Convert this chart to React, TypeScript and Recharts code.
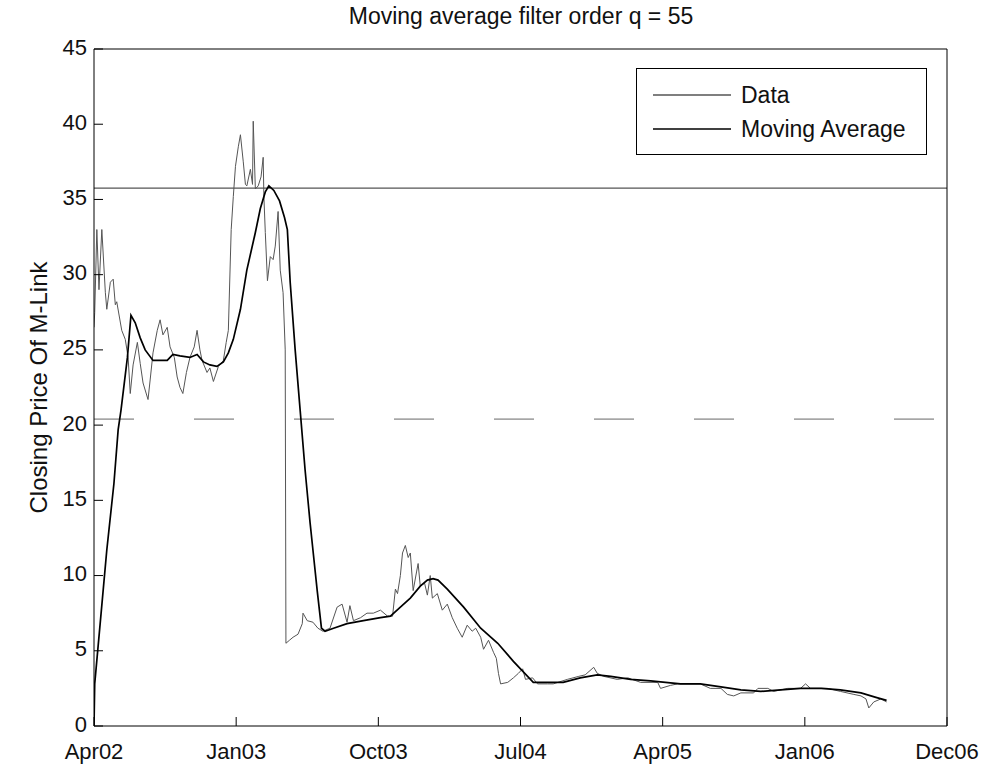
import React from "react";
import {
  LineChart,
  Line,
  XAxis,
  YAxis,
  Legend,
  ReferenceLine,
  Label,
} from "recharts";

// x axis runs in sample units, 200 per tick interval
const X_TICKS = [0, 200, 400, 600, 800, 1000, 1200];
const X_LABELS = ["Apr02", "Jan03", "Oct03", "Jul04", "Apr05", "Jan06", "Dec06"];
const Y_TICKS = [0, 5, 10, 15, 20, 25, 30, 35, 40, 45];

// closing price (thin grey)
const PRICE_X = [
  0, 1, 4, 7, 11, 16, 18, 23, 27, 30, 32, 39, 44, 48, 51, 55, 61, 65, 69, 76,
  79, 83, 89, 93, 97, 103, 107, 113, 117, 121, 125, 130, 135, 141, 145, 149,
  152, 159, 163, 168, 175, 182, 186, 189, 193, 196, 199, 203, 206, 210, 213,
  215, 220, 223, 224, 227, 231, 235, 238, 239, 241, 244, 248, 252, 255, 259,
  262, 266, 269, 270, 275, 280, 287, 293, 294, 300, 308, 315, 322, 332, 342,
  349, 356, 360, 365, 375, 384, 393, 403, 413, 420, 424, 427, 431, 434, 438,
  442, 445, 449, 454, 456, 459, 465, 469, 473, 476, 483, 490, 497, 504, 511,
  518, 525, 532, 537, 544, 548, 555, 562, 566, 569, 572, 582, 590, 597, 603,
  607, 617, 624, 638, 646, 666, 682, 691, 703, 708, 717, 736, 751, 769, 793,
  797, 811, 821, 853, 867, 882, 891, 900, 910, 928, 934, 948, 956, 976, 994,
  1001, 1008, 1032, 1050, 1069, 1079, 1086, 1090, 1097, 1107, 1115,
];
const PRICE = [
  26.5, 27.5, 33, 29, 33, 28.8, 27.7, 29.5, 29.7, 28, 28.2, 26.3, 25.7, 24.5,
  22.1, 24, 25.5, 24.1, 22.8, 21.7, 23, 24.8, 26.3, 27, 26, 26.5, 25.2, 24.5,
  23.2, 22.5, 22.1, 23.5, 24.5, 25.2, 26.3, 25, 24.3, 23.5, 23.8, 22.9, 23.9,
  24.3, 25.5, 26.3, 33, 35.2, 37.2, 38.5, 39.3, 37.5, 36, 35.9, 37, 36, 40.2,
  35.7, 35.9, 36.5, 37.8, 35.2, 32.8, 29.6, 31.2, 31, 31.9, 34.2, 30.3, 28.8,
  25, 5.5, 5.7, 5.9, 6.1, 6.8, 7.5, 7, 6.9, 6.5, 6.3, 6.5, 7.9, 8.1, 6.9, 8,
  7, 7.2, 7.5, 7.5, 7.7, 7.3, 7.3, 9.1, 8.8, 10, 11.5, 12, 11.2, 11.5, 9, 10.3,
  10.8, 9.3, 9.5, 8.7, 10, 8.5, 8.8, 7.7, 8.1, 7.2, 6.5, 5.9, 6.7, 6.3, 6.5,
  5.9, 5.1, 5.7, 4.9, 4.5, 3.5, 2.8, 2.9, 3.2, 3.5, 3.8, 3.1, 3.2, 2.8, 2.8,
  2.8, 3.1, 3.3, 3.4, 3.9, 3.5, 3.3, 3.1, 3.2, 2.9, 2.9, 2.5, 2.7, 2.8, 2.8,
  2.5, 2.5, 2.1, 2, 2.2, 2.2, 2.5, 2.5, 2.3, 2.5, 2.5, 2.8, 2.5, 2.5, 2.3,
  2.1, 2, 1.8, 1.2, 1.6, 1.8, 1.6,
];

// moving average, q = 55 (black)
const MA_X = [
  0, 1, 10, 18, 28, 34, 38, 47, 52, 58, 65, 72, 83, 93, 103, 111, 121, 135,
  145, 154, 163, 173, 182, 189, 196, 206, 215, 227, 234, 241, 246, 253,
  261, 268, 272, 276, 283, 290, 297, 304, 308, 314, 320, 325, 337, 356, 379,
  403, 417, 431, 445, 459, 469, 477, 484, 497, 520, 544, 568, 590, 610, 618,
  638, 660, 684, 708, 727, 755, 783, 825, 853, 882, 910, 938, 966, 994, 1023,
  1050, 1079, 1100, 1115,
];
const MA = [
  0, 2.8, 7.5, 11.7, 16.1, 19.7, 21, 24.5, 27.3, 26.8, 25.8, 25, 24.3, 24.3,
  24.3, 24.7, 24.6, 24.5, 24.7, 24.2, 24, 23.9, 24.2, 24.8, 25.7, 27.7, 30.3,
  32.8, 34.4, 35.5, 35.9, 35.6, 34.9, 33.8, 33, 29.5, 25, 21, 17, 13.5,
  11.7, 9, 6.5, 6.3, 6.5, 6.8, 7, 7.2, 7.3, 7.9, 8.5, 9.3, 9.7, 9.8, 9.7, 9.1,
  7.9, 6.5, 5.5, 4.3, 3.3, 2.9, 2.9, 2.9, 3.2, 3.4, 3.3, 3.1, 3, 2.8, 2.8, 2.6,
  2.4, 2.3, 2.4, 2.5, 2.5, 2.4, 2.2, 1.9, 1.7,
];

const priceRows = PRICE_X.map((x, i) => ({ x, y: PRICE[i] }));
const maRows = MA_X.map((x, i) => ({ x, y: MA[i] }));

const FONT = '"Liberation Sans", Arial, Helvetica, sans-serif';
const TICK_LEN = 9;

const LeftTick = ({ x, y, payload }: any) => (
  <g>
    <text
      x={x}
      y={y - 2}
      textAnchor="end"
      dominantBaseline="central"
      fontFamily={FONT}
      fontSize={22}
      fill="#111"
    >
      {payload.value}
    </text>
    <line x1={x + 7} x2={x + 7 + TICK_LEN} y1={y} y2={y} stroke="#000" />
  </g>
);

const RightTick = ({ x, y }: any) => (
  <line x1={x} x2={x - TICK_LEN} y1={y} y2={y} stroke="#000" />
);

const BottomTick = ({ x, y, payload }: any) => (
  <g>
    <text
      x={x}
      y={y + 33}
      textAnchor="middle"
      fontFamily={FONT}
      fontSize={22}
      fill="#111"
    >
      {X_LABELS[X_TICKS.indexOf(payload.value)]}
    </text>
    <line x1={x} x2={x} y1={y} y2={y - TICK_LEN} stroke="#000" />
  </g>
);

const TopTick = ({ x, y }: any) => (
  <line x1={x} x2={x} y1={y} y2={y + TICK_LEN} stroke="#000" />
);

const renderLegend = (props: any) => (
  <div
    style={{
      width: 291,
      height: 87,
      boxSizing: "border-box",
      border: "1px solid #000",
      background: "#fff",
      padding: "9px 0 0 16px",
      fontFamily: FONT,
      fontSize: 23,
      color: "#111",
    }}
  >
    {props.payload.map((entry: any) => (
      <div
        key={entry.value}
        style={{ display: "flex", alignItems: "center", height: 34 }}
      >
        <svg width={78} height={4} style={{ marginRight: 10 }}>
          <line x1={0} x2={78} y1={2} y2={2} stroke={entry.color} strokeWidth={1.3} />
        </svg>
        <span>{entry.value}</span>
      </div>
    ))}
  </div>
);

export default function App() {
  return (
    <div
      style={{
        position: "absolute",
        left: 0,
        top: 0,
        width: 993,
        height: 767,
        background: "#fff",
      }}
    >
      <div
        style={{
          position: "absolute",
          left: 0,
          width: 1042,
          top: 3,
          textAlign: "center",
          fontFamily: FONT,
          fontSize: 23,
          color: "#111",
        }}
      >
        Moving average filter order q = 55
      </div>
      <LineChart
        width={993}
        height={767}
        margin={{ top: 48, right: 45, bottom: 40, left: 0 }}
      >
        <XAxis
          xAxisId="bottom"
          type="number"
          dataKey="x"
          domain={[0, 1200]}
          ticks={X_TICKS}
          interval={0}
          height={1}
          tickSize={0}
          tickMargin={0}
          tick={<BottomTick />}
          axisLine={{ stroke: "#000" }}
          allowDataOverflow
        />
        <XAxis
          xAxisId="top"
          orientation="top"
          type="number"
          dataKey="x"
          domain={[0, 1200]}
          ticks={X_TICKS}
          interval={0}
          height={1}
          tickSize={0}
          tickMargin={0}
          tick={<TopTick />}
          axisLine={{ stroke: "#000" }}
        />
        <YAxis
          yAxisId="left"
          type="number"
          domain={[0, 45]}
          ticks={Y_TICKS}
          interval={0}
          width={94}
          tickSize={0}
          tickMargin={7}
          tick={<LeftTick />}
          axisLine={{ stroke: "#000" }}
        >
          <Label
            value="Closing Price Of M-Link"
            angle={-90}
            position="insideLeft"
            offset={38}
            style={{
              textAnchor: "middle",
              fontFamily: FONT,
              fontSize: 24,
              fill: "#111",
            }}
          />
        </YAxis>
        <YAxis
          yAxisId="right"
          orientation="right"
          type="number"
          domain={[0, 45]}
          ticks={Y_TICKS}
          interval={0}
          width={1}
          tickSize={0}
          tickMargin={0}
          tick={<RightTick />}
          axisLine={{ stroke: "#000" }}
        />
        {/* horizontal streaks across the scanned page */}
        <ReferenceLine
          xAxisId="bottom"
          yAxisId="left"
          y={35.75}
          stroke="#555"
          strokeWidth={1.2}
        />
        <ReferenceLine
          xAxisId="bottom"
          yAxisId="left"
          y={20.4}
          stroke="#666"
          strokeDasharray="40 60"
        />
        <Line
          data={priceRows}
          xAxisId="bottom"
          yAxisId="left"
          dataKey="y"
          name="Data"
          type="linear"
          stroke="#555"
          strokeWidth={1}
          dot={false}
          isAnimationActive={false}
        />
        <Line
          data={maRows}
          xAxisId="bottom"
          yAxisId="left"
          dataKey="y"
          name="Moving Average"
          type="linear"
          stroke="#000"
          strokeWidth={1.7}
          dot={false}
          isAnimationActive={false}
        />
        <Legend
          layout="horizontal"
          verticalAlign="middle"
          align="center"
          content={renderLegend}
          wrapperStyle={{ left: 636, top: 68, width: 291 }}
        />
      </LineChart>
    </div>
  );
}
